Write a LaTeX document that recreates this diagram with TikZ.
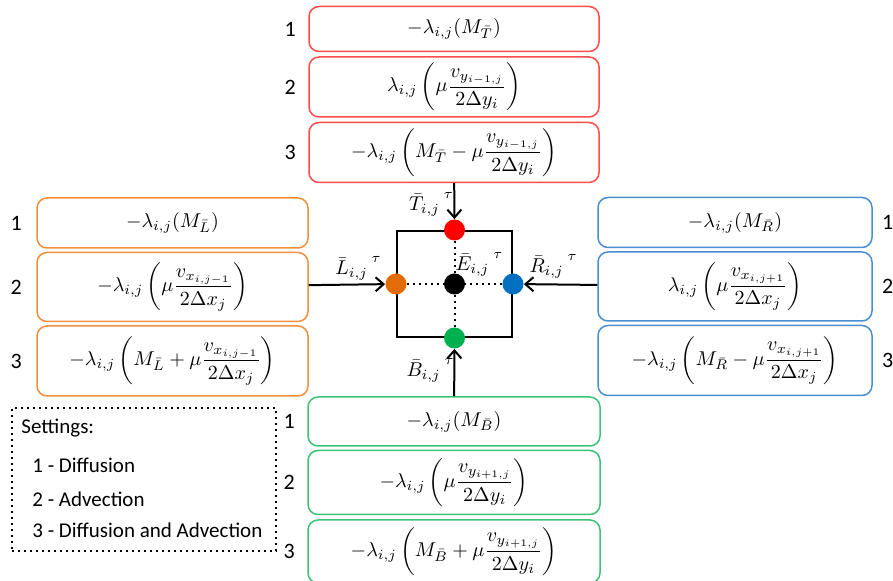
\documentclass[tikz,border=0pt]{standalone}
\usepackage{amsmath}
\usepackage{fontspec}
\setmainfont{Carlito}
\usetikzlibrary{
  arrows.meta,
  positioning
}
\definecolor{vermelho}{HTML}{FF4B4B}
\definecolor{laranja}{HTML}{F28E3C}
\definecolor{azul}{HTML}{4A8FD0}
\definecolor{verde}{HTML}{3CC278}
\definecolor{pvermelho}{HTML}{FF0000}
\definecolor{plaranja}{HTML}{E36C0A}
\definecolor{pazul}{HTML}{0070C0}
\definecolor{pverde}{HTML}{00B050}
\newcommand{\tauup}{\hspace{2pt}\raisebox{6pt}{$\scriptstyle\tau$}}

\begin{document}
\begin{tikzpicture}[
    x={(0.5pt,0)},y={(0,-0.5pt)},
    termo/.style={
    draw,
    rounded corners=5pt,
    line width=0.75pt,
    align=center,
    inner sep=0pt,
    font=\fontsize{10}{12}\selectfont
    },
    num/.style={font=\fontsize{11}{13}\selectfont,inner sep=0pt},
    texto/.style={font=\fontsize{10.5}{12}\selectfont,anchor=west,inner sep=0pt},
    ponto/.style={circle,minimum size=10.5pt,inner sep=0pt},
    pontilhado/.style={line width=1pt,dotted},
    seta/.style={-{Straight Barb[length=4pt,width=7pt]},line width=1pt}
    ]
    \useasboundingbox (0,0) rectangle (893,581);

    % caixas de cima
    \node[termo,draw=vermelho,minimum width=145pt,minimum height=22.5pt] (t1) at (454,29)
    {$-\lambda_{i,j}(M_{\bar{T}})$};
    \node[termo,draw=vermelho,minimum width=145pt,minimum height=30pt,below=2pt of t1]
    (t2){$\lambda_{i,j}\left(\mu\dfrac{v_{y_{i-1,j}}}{2\Delta y_i}\right)$};
    \node[termo,draw=vermelho,minimum width=145pt,minimum height=30pt,below=2pt of t2]
    (t3){$-\lambda_{i,j}\left(M_{\bar{T}}-\mu\dfrac{v_{y_{i-1,j}}}{2\Delta y_i}\right)$};

    % caixas da esquerda
    \node[termo,draw=laranja,minimum width=135.5pt,minimum height=25pt] (l1) at (172.5,223)
    {$-\lambda_{i,j}(M_{\bar{L}})$};
    \node[termo,draw=laranja,minimum width=135.5pt,minimum height=34.5pt,below=1.5pt of l1]
    (l2){$-\lambda_{i,j}\left(\mu\dfrac{v_{x_{i,j-1}}}{2\Delta x_j}\right)$};
    \node[termo,draw=laranja,minimum width=135.5pt,minimum height=35pt,below=1.5pt of l2]
    (l3){$-\lambda_{i,j}\left(M_{\bar{L}}+\mu\dfrac{v_{x_{i,j-1}}}{2\Delta x_j}\right)$};

    % caixas da direita
    \node[termo,draw=azul,minimum width=137pt,minimum height=25pt] (r1) at (735,222.5)
    {$-\lambda_{i,j}(M_{\bar{R}})$};
    \node[termo,draw=azul,minimum width=137pt,minimum height=34.5pt,below=1.5pt of r1]
    (r2){$\lambda_{i,j}\left(\mu\dfrac{v_{x_{i,j+1}}}{2\Delta x_j}\right)$};
    \node[termo,draw=azul,minimum width=137pt,minimum height=35pt,below=1.5pt of r2]
    (r3){$-\lambda_{i,j}\left(M_{\bar{R}}-\mu\dfrac{v_{x_{i,j+1}}}{2\Delta x_j}\right)$};

    % caixas de baixo
    \node[termo,draw=verde,minimum width=146pt,minimum height=24.5pt] (b1) at (454,421.5)
    {$-\lambda_{i,j}(M_{\bar{B}})$};
    \node[termo,draw=verde,minimum width=146pt,minimum height=32pt,below=1.5pt of b1]
    (b2){$-\lambda_{i,j}\left(\mu\dfrac{v_{y_{i+1,j}}}{2\Delta y_i}\right)$};
    \node[termo,draw=verde,minimum width=146pt,minimum height=31.5pt,below=2pt of b2]
    (b3){$-\lambda_{i,j}\left(M_{\bar{B}}+\mu\dfrac{v_{y_{i+1,j}}}{2\Delta y_i}\right)$};

    % numeros
    \foreach \c in {t,b}{
      \node[num,left=6pt of \c1] {1};
      \node[num,left=6pt of \c2] {2};
      \node[num,left=6pt of \c3] {3};
    }
    \node[num,left=7pt of l1] {1};
    \node[num,left=7pt of l2] {2};
    \node[num,left=7pt of l3] {3};
    \node[num,right=4.5pt of r1] {1};
    \node[num,right=4.5pt of r2] {2};
    \node[num,right=4.5pt of r3] {3};

    % celula central
    \node[draw,line width=1pt,minimum width=57.5pt,minimum height=53pt,inner sep=0pt]
    (cel) at (454.5,284) {};
    \node[ponto,fill=pvermelho] (pt) at (cel.north) {};
    \node[ponto,fill=plaranja] (pl) at (cel.west) {};
    \node[ponto,fill=pazul] (pr) at (cel.east) {};
    \node[ponto,fill=pverde] (pb) at (cel.south) {};
    \node[ponto,fill=black] (pe) at (cel.center) {};

    \draw[pontilhado] (pt) -- (pe);
    \draw[pontilhado] (pb) -- (pe);
    \draw[pontilhado] (pl) -- (pe);
    \draw[pontilhado] (pr) -- (pe);

    \draw[seta] (t3) -- (pt);
    \draw[seta] (l2) -- (pl);
    \draw[seta] (r2) -- (pr);
    \draw[seta] (b1) -- (pb);

    \node (lt) at (431,204) {$\bar{T}_{i,j}\tauup$};
    \node (ll) at (358,268) {$\bar{L}_{i,j}\tauup$};
    \node (le) at (479,264) {$\bar{E}_{i,j}\tauup$};
    \node (lr) at (553,266) {$\bar{R}_{i,j}\tauup$};
    \node (lb) at (430,370) {$\bar{B}_{i,j}\tauup$};

    % legenda
    \node[draw,line width=1pt,dotted,minimum width=132pt,minimum height=71.5pt,inner sep=0pt]
    (leg) at (144,479.5) {};
    \node[texto] (s0) at (21,428) {Settings:};
    \node[texto] (s1) at (32,465) {1 - Diffusion};
    \node[texto] (s2) at (32,499) {2 - Advection};
    \node[texto] (s3) at (32,530) {3 - Diffusion and Advection};

    \end{tikzpicture}
\end{document}
